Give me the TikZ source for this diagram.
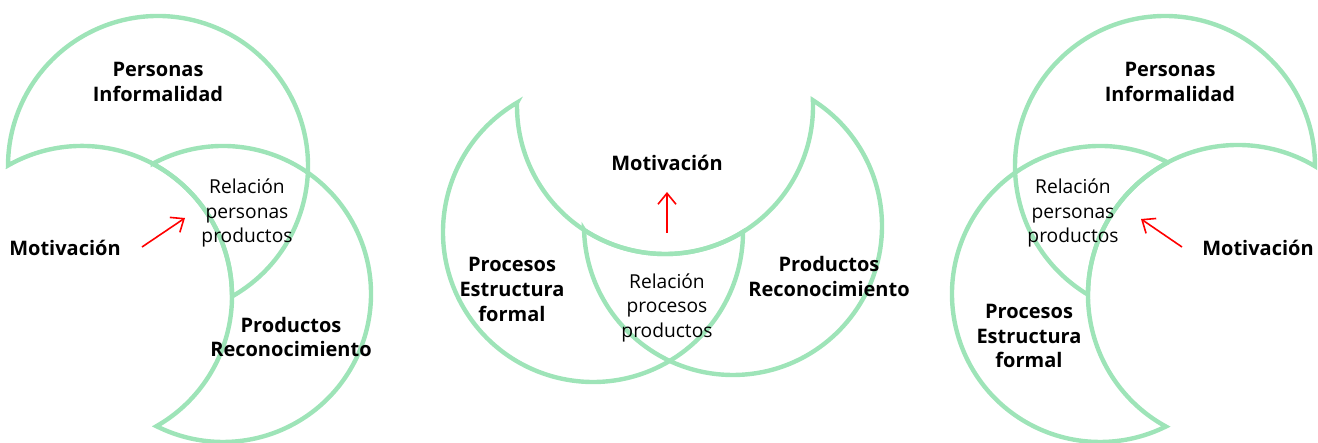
\documentclass[tikz,border=0pt]{standalone}
\usepackage{fontspec}
\setmainfont{Open Sans}
\usetikzlibrary{arrows.meta}
\definecolor{moongreen}{RGB}{158,228,184}

\begin{document}
\begin{tikzpicture}[x=0.5pt, y=0.5pt, every node/.style={align=center, inner sep=0pt},
		title/.style={font=\fontsize{10}{12.3}\selectfont\bfseries},
		relation/.style={font=\fontsize{9.6}{12.3}\selectfont},
		moon/.style={draw=moongreen, line width=2.2pt},
		push/.style={draw=red, line width=0.8pt, -{Straight Barb[length=5.5pt, width=9pt]}}]
			\useasboundingbox (0,0) rectangle (1318,443);
			% Circle centres
			\coordinate (personasL) at (158,277);
			\coordinate (productosL) at (223,149);
			\coordinate (procesosM) at (593,211);
			\coordinate (productosM) at (733,217);
			\coordinate (personasR) at (1165,277);
			\coordinate (procesosR) at (1100,149);
			% Left crescents
			\draw[moon] (personasL) ++(-60.45:150) arc[start angle=-60.45, end angle=179.8, radius=150] arc[start angle=119.55, end angle=-0.2, radius=150] -- cycle;
			\draw[moon] (productosL) ++(118.34:148) arc[start angle=118.34, end angle=-116.71, radius=148] arc[start angle=-60.23, end angle=61.86, radius=150] -- cycle;
			% Middle crescents
			\draw[moon] (procesosM) ++(120.42:150) arc[start angle=120.42, end angle=360.08, radius=150] arc[start angle=301.81, end angle=178.71, radius=148] -- cycle;
			\draw[moon] (productosM) ++(181.5:149) arc[start angle=181.5, end angle=417.57, radius=149] arc[start angle=362.24, end angle=236.84, radius=148] -- cycle;
			% Right crescents
			\draw[moon] (personasR) ++(-0.1:150) arc[start angle=-0.1, end angle=239.11, radius=150] arc[start angle=179.9, end angle=59.11, radius=150] -- cycle;
			\draw[moon] (procesosR) ++(62.74:148) arc[start angle=62.74, end angle=296.43, radius=148] arc[start angle=241.26, end angle=117.91, radius=150] -- cycle;
			% Left labels
			\node[title] (personas1) at (158,361) {Personas\\Informalidad};
			\node[title] (motivacion1) at (65,195.5) {Motivación};
			\node[relation] (relacion1) at (247,230) {Relación\\personas\\productos};
			\node[title] (productos1) at (291,106) {Productos\\Reconocimiento};
			% Middle labels
			\node[title] (motivacion2) at (667,280.5) {Motivación};
			\node[title] (procesos2) at (512,153.6) {Procesos\\Estructura\\formal};
			\node[relation] (relacion2) at (667,135.4) {Relación\\procesos\\productos};
			\node[title] (productos2) at (829,166.2) {Productos\\Reconocimiento};
			% Right labels
			\node[title] (personas3) at (1170,361) {Personas\\Informalidad};
			\node[relation] (relacion3) at (1073,230) {Relación\\personas\\productos};
			\node[title] (motivacion3) at (1258,195.5) {Motivación};
			\node[title] (procesos3) at (1029,107) {Procesos\\Estructura\\formal};
			% Arrows
			\coordinate (push1a) at (142,196);
			\coordinate (push1b) at (185,225);
			\coordinate (push2a) at (667,210);
			\coordinate (push2b) at (667,251);
			\coordinate (push3a) at (1182,196);
			\coordinate (push3b) at (1141,224);
			\draw[push] (push1a) -- (push1b);
			\draw[push] (push2a) -- (push2b);
			\draw[push] (push3a) -- (push3b);
		\end{tikzpicture}
\end{document}
